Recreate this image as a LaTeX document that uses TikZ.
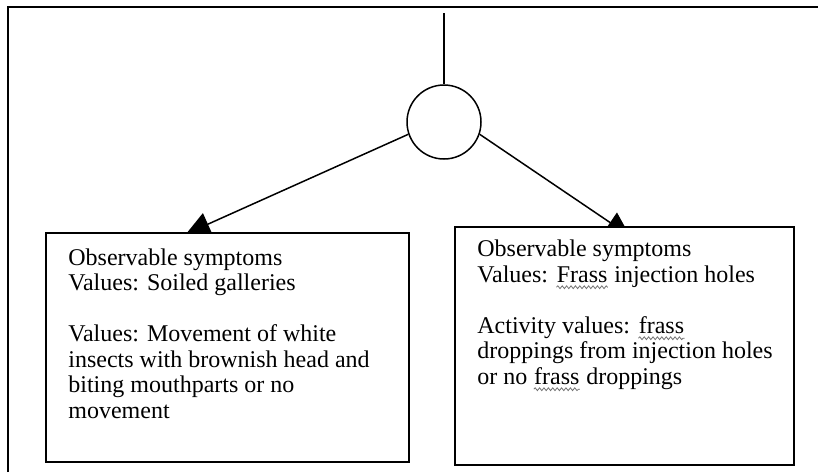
\documentclass[tikz,border=0pt]{standalone}
\usepackage{fontspec}
\setmainfont{Liberation Serif}
\usepackage{xcolor}
\usepackage{tikz}
\usetikzlibrary{positioning, arrows.meta, decorations.pathmorphing}

% wavy spell-check mark under a word
\newcommand{\spellmark}[1]{\tikz[baseline=(w.base)]{%
  \node[inner sep=0pt] (w) {#1};
  \draw[black!55, line width=0.4pt, decorate,
    decoration={snake, amplitude=0.7pt, segment length=2.2pt}]
    ([yshift=-2.6pt]w.base west) -- ([yshift=-2.6pt]w.base east);}}

\begin{document}
\begin{tikzpicture}[x=0.5pt, y=-0.5pt,
  symbox/.style={draw, line width=1pt, fill=white, inner sep=0pt},
  symtext/.style={font=\fontsize{12}{12.75}\selectfont, align=left, inner sep=0pt},
  link/.style={line width=0.75pt, -{Triangle[length=12pt, width=12pt]}}]
  \useasboundingbox (0,0) rectangle (818,472);

  % ── Outer frame (top and left edges) ──
  \draw[line width=1pt] (8,472) -- (8,7) -- (818,7);

  % ── Hub circle and stem ──
  \node[draw, circle, line width=0.75pt, minimum size=37pt, inner sep=0pt] (hub) at (444,122) {};
  \coordinate (stemtop) at (444,13);
  \draw[line width=0.75pt] (stemtop) -- (hub.north);

  % ── Links (tips hidden under the boxes) ──
  \coordinate (ltip) at (186,234);
  \coordinate (rtip) at (630,236);
  \draw[link] (hub.199) -- (ltip);
  \draw[link] (hub.-19) -- (rtip);

  % ── Left symptom box ──
  \node[symbox, minimum width=181.5pt, minimum height=114.5pt] (lsym) at (227.5,347.5) {};
  \node[symtext, anchor=base west] (ltext) at (68,418)
    {Observable symptoms\\
     Values: Soiled galleries\\[12.75pt]
     Values: Movement of white\\
     insects with brownish head and\\
     biting mouthparts or no\\
     movement};

  % ── Right symptom box ──
  \node[symbox, minimum width=169.5pt, minimum height=119pt] (rsym) at (624.5,346) {};
  \node[symtext, anchor=base west] (rtext) at (477,384)
    {Observable symptoms\\
     Values: \spellmark{Frass} injection holes\\[12.75pt]
     Activity values: \spellmark{frass}\\
     droppings from injection holes\\
     or no \spellmark{frass} droppings};
\end{tikzpicture}
\end{document}
